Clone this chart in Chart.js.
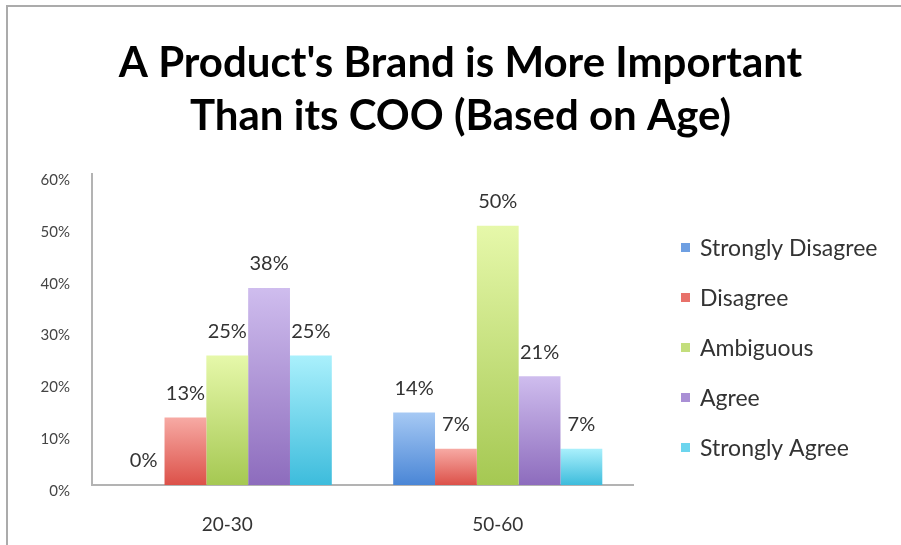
<!DOCTYPE html>
<html>
<head>
<meta charset="utf-8">
<title>Brand vs COO by Age</title>
<script src="https://cdn.jsdelivr.net/npm/chart.js@4.4.1/dist/chart.umd.min.js"></script>
<style>
  html, body { margin: 0; padding: 0; background: #fff; }
  canvas { display: block; }
</style>
</head>
<body>
<canvas id="brandChart" width="901" height="545"></canvas>
<script>
// survey data (percent of respondents per age group)
const ageGroups = ['20-30', '50-60'];
const responses = ['Strongly Disagree', 'Disagree', 'Ambiguous', 'Agree', 'Strongly Agree'];
const stronglyDisagree = [0, 14];
const disagree = [13, 7];
const ambiguous = [25, 50];
const agree = [38, 21];
const stronglyAgree = [25, 7];
const yTicks = [0, 10, 20, 30, 40, 50, 60];

// light top -> darker bottom, plus a flat colour for the legend swatch
const palette = [
    { top: '#a6c9f4', bottom: '#4a86d6', flat: '#6e9fe2' },
    { top: '#f7aaa4', bottom: '#dc5149', flat: '#e8716a' },
    { top: '#e6f8aa', bottom: '#a5c852', flat: '#c3de7c' },
    { top: '#cfbdee', bottom: '#8d6cbd', flat: '#a98fd5' },
    { top: '#aaf0fc', bottom: '#3dbcdc', flat: '#6cd5ee' }
];

const FONT = 'Lato, "Open Sans", sans-serif';
const seriesValues = [stronglyDisagree, disagree, ambiguous, agree, stronglyAgree];

function barGradient(i) {
    return function (context) {
        const chart = context.chart;
        const y = chart.scales.y;
        if (!chart.chartArea || !y || context.parsed == null) return palette[i].flat;
        const top = y.getPixelForValue(context.parsed.y);
        const base = y.getPixelForValue(0);
        if (!isFinite(top) || !isFinite(base) || base - top < 1) return palette[i].flat;
        const g = chart.ctx.createLinearGradient(0, top, 0, base);
        g.addColorStop(0, palette[i].top);
        g.addColorStop(1, palette[i].bottom);
        return g;
    };
}

// white background and the thin grey frame on the top/left edge
const framePlugin = {
    id: 'frame',
    beforeDraw(chart) {
        const ctx = chart.ctx;
        ctx.save();
        ctx.fillStyle = '#fff';
        ctx.fillRect(0, 0, chart.width, chart.height);
        ctx.strokeStyle = '#ababab';
        ctx.lineWidth = 2;
        ctx.beginPath();
        ctx.moveTo(7, chart.height);
        ctx.lineTo(7, 6);
        ctx.lineTo(chart.width, 6);
        ctx.stroke();
        ctx.restore();
    }
};

// percentage written above each bar
const valueLabels = {
    id: 'valueLabels',
    afterDatasetsDraw(chart) {
        const ctx = chart.ctx;
        ctx.save();
        ctx.font = '20px ' + FONT;
        ctx.fillStyle = '#333';
        ctx.textAlign = 'center';
        ctx.textBaseline = 'middle';
        chart.data.datasets.forEach((ds, i) => {
            chart.getDatasetMeta(i).data.forEach((bar, j) => {
                ctx.fillText(ds.data[j] + '%', bar.x, bar.y - 24);
            });
        });
        ctx.restore();
    }
};

// legend column to the right of the plot
const sideLegend = {
    id: 'sideLegend',
    afterDraw(chart) {
        const ctx = chart.ctx;
        const x = chart.chartArea.right + 48;
        ctx.save();
        ctx.font = '23px ' + FONT;
        ctx.textBaseline = 'middle';
        chart.data.datasets.forEach((ds, i) => {
            const y = 249 + i * 50;
            ctx.fillStyle = palette[i].flat;
            ctx.fillRect(x, y - 6, 9, 9);
            ctx.fillStyle = '#333';
            ctx.fillText(ds.label, x + 19, y);
        });
        ctx.restore();
    }
};

new Chart(document.getElementById('brandChart'), {
    type: 'bar',
    data: {
        labels: ageGroups,
        datasets: responses.map((name, i) => ({
            label: name,
            data: seriesValues[i],
            backgroundColor: barGradient(i),
            borderWidth: 0,
            barPercentage: 1,
            categoryPercentage: 0.773
        }))
    },
    options: {
        responsive: false,
        animation: false,
        devicePixelRatio: 1,
        layout: { padding: { left: 20, right: 0, top: 0, bottom: 12 } },
        plugins: {
            legend: { display: false },
            tooltip: { enabled: false },
            title: {
                display: true,
                text: ["A Product's Brand is More Important", 'Than its COO (Based on Age)'],
                color: '#000',
                font: { family: FONT, size: 42, weight: 'bold', lineHeight: 53 / 42 },
                padding: { top: 37, bottom: 31 }
            }
        },
        scales: {
            x: {
                afterFit(scale) {
                    scale.height = 48;
                },
                grid: { display: false, drawTicks: false },
                border: { display: true, color: '#b3b3b3', width: 2 },
                ticks: { color: '#333', font: { family: FONT, size: 19 }, padding: 28 }
            },
            y: {
                min: 0,
                max: 60,
                afterBuildTicks(scale) {
                    scale.ticks = yTicks.map(v => ({ value: v }));
                },
                afterFit(scale) {
                    scale.width = 72;
                },
                grid: { display: false, drawTicks: false },
                border: { display: true, color: '#b3b3b3', width: 2 },
                ticks: {
                    color: '#444',
                    font: { family: FONT, size: 15 },
                    padding: 22,
                    labelOffset: 6,
                    callback: v => v + '%'
                }
            },
            // empty axis that only keeps the right-hand strip free for the legend
            legendSpace: {
                type: 'linear',
                position: 'right',
                afterFit(scale) {
                    scale.width = 268;
                },
                grid: { display: false, drawTicks: false },
                border: { display: false },
                ticks: { display: false }
            }
        }
    },
    plugins: [framePlugin, valueLabels, sideLegend]
});
</script>
</body>
</html>
